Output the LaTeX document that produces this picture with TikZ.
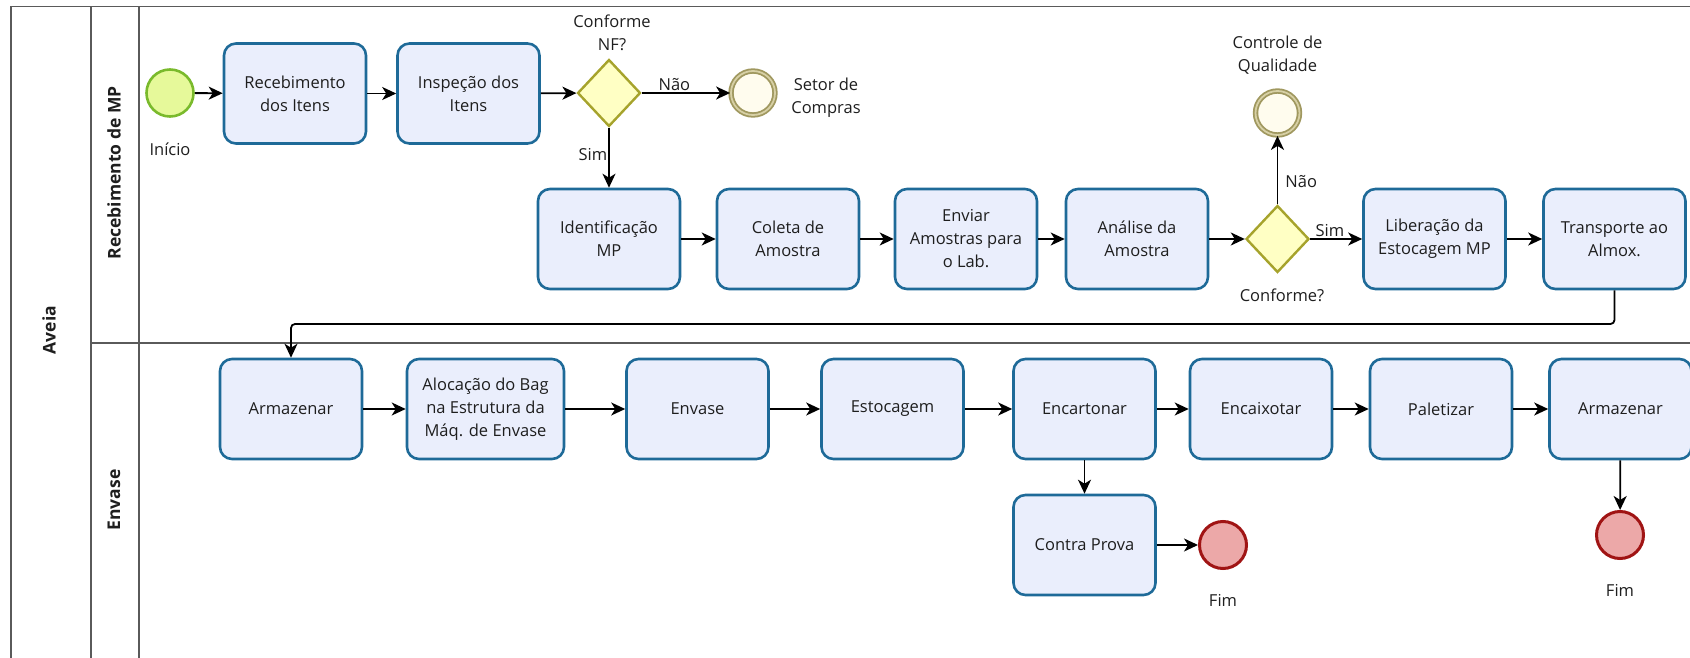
\documentclass[tikz,border=0pt]{standalone}
\usepackage{fontspec}
\setmainfont{Open Sans}
\usetikzlibrary{arrows.meta,shapes.geometric}

\definecolor{taskline}{RGB}{30,106,152}
\definecolor{taskfill}{RGB}{234,238,252}
\definecolor{gwline}{RGB}{166,163,44}
\definecolor{gwfill}{RGB}{255,255,196}
\definecolor{startline}{RGB}{122,186,44}
\definecolor{startfill}{RGB}{230,249,154}
\definecolor{endline}{RGB}{160,20,20}
\definecolor{endfill}{RGB}{236,168,168}
\definecolor{midline}{RGB}{160,152,95}
\definecolor{midring}{RGB}{215,208,165}
\definecolor{midfill}{RGB}{255,252,238}
\definecolor{laneline}{RGB}{90,90,90}
\definecolor{txt}{RGB}{30,30,30}

\begin{document}
\begin{tikzpicture}[x=1pt,y=-1pt,
  every node/.style={text=txt},
  lbl/.style={font=\fontsize{16.5}{23}\selectfont, align=center, inner sep=1pt},
  lanelbl/.style={font=\bfseries\fontsize{17.5}{20}\selectfont, rotate=90, inner sep=0pt},
  task/.style={draw=taskline, fill=taskfill, line width=2.6pt, rounded corners=12pt,
    minimum width=142pt, minimum height=100pt, align=center, inner sep=2pt,
    font=\fontsize{16.5}{23}\selectfont},
  widetask/.style={task, minimum width=157pt},
  gateway/.style={diamond, draw=gwline, fill=gwfill, line width=2.4pt,
    minimum width=63pt, minimum height=67pt, inner sep=0pt},
  startev/.style={circle, draw=startline, fill=startfill, line width=2.6pt,
    minimum size=47pt, inner sep=0pt},
  endev/.style={circle, draw=endline, fill=endfill, line width=3pt,
    minimum size=47pt, inner sep=0pt},
  midev/.style={circle, draw=midline, fill=midfill, line width=1.8pt,
    double=midring, double distance=1.8pt, minimum size=44pt, inner sep=0pt},
  flow/.style={draw=black, line width=1.8pt,
    -{Stealth[length=14pt,width=13pt,inset=4pt]}},
  frame/.style={draw=laneline, line width=1.5pt}
]
\useasboundingbox (0,0) rectangle (1690,658);

% pool and lanes
\draw[frame] (11,658) -- (11,6.5) -- (1690,6.5);
\draw[frame] (91,6.5) -- (91,658);
\draw[frame] (139,6.5) -- (139,658);
\draw[frame] (91,343) -- (1690,343);
\node[lanelbl] (pool) at (49,330) {Aveia};
\node[lanelbl] (lane1) at (114,173) {Recebimento de MP};
\node[lanelbl] (lane2) at (114,500) {Envase};

% lane 1: receiving
\node[startev] (start) at (170,93) {};
\node[lbl] (startlbl) at (170,149) {Início};
\node[task] (receb) at (295,93.5) {Recebimento\\dos Itens};
\node[task] (insp) at (468.5,93.5) {Inspeção dos\\Itens};
\node[gateway] (gw1) at (609,93) {};
\node[lbl] (gw1lbl) at (612,33) {Conforme\\NF?};
\node[midev] (setor) at (753,93) {};
\node[lbl] (setorlbl) at (826,98) {Setor de\\Compras};

\node[task] (ident) at (609,239) {Identificação\\MP};
\node[task] (coleta) at (788,239) {Coleta de\\Amostra};
\node[task] (enviar) at (966,239) {Enviar\\Amostras para\\o Lab.};
\node[task] (analise) at (1137,239) {Análise da\\Amostra};
\node[gateway] (gw2) at (1277.5,239) {};
\node[lbl] (gw2lbl) at (1282,295) {Conforme?};
\node[midev] (cq) at (1277.5,113) {};
\node[lbl] (cqlbl) at (1277.5,55) {Controle de\\Qualidade};
\node[task] (liber) at (1434.5,239) {Liberação da\\Estocagem MP};
\node[task] (transp) at (1614.5,239) {Transporte ao\\Almox.};

% lane 2: filling
\node[task] (arm1) at (291,409) {Armazenar};
\node[widetask] (aloc) at (485.5,409) {Alocação do Bag\\na Estrutura da\\Máq. de Envase};
\node[task] (envase) at (697.5,409) {Envase};
\node[task] (estoc) at (892.5,409) {Estocagem};
\node[task] (encart) at (1084.5,409) {Encartonar};
\node[task] (encaix) at (1261,409) {Encaixotar};
\node[task] (palet) at (1441,409) {Paletizar};
\node[task] (arm2) at (1620.5,409) {Armazenar};
\node[task] (contra) at (1084.5,545) {Contra Prova};
\node[endev] (fim1) at (1223,545) {};
\node[lbl] (fim1lbl) at (1223,600) {Fim};
\node[endev] (fim2) at (1620,535) {};
\node[lbl] (fim2lbl) at (1620,590) {Fim};

% sequence flows
\draw[flow] (start) -- (receb);
\draw[flow] (receb) -- (insp);
\draw[flow] (insp) -- (gw1);
\draw[flow] (gw1) -- node[lbl, above, pos=0.37] {Não} (setor);
\draw[flow] (gw1) -- node[lbl, left, pos=0.45] {Sim} (ident);
\draw[flow] (ident) -- (coleta);
\draw[flow] (coleta) -- (enviar);
\draw[flow] (enviar) -- (analise);
\draw[flow] (analise) -- (gw2);
\draw[flow] (gw2) -- node[lbl, right, pos=0.34, xshift=6pt] {Não} (cq);
\draw[flow] (gw2) -- node[lbl, above, pos=0.38] {Sim} (liber);
\draw[flow] (liber) -- (transp);
\coordinate (looprow) at (0,324);
\draw[flow, rounded corners=4pt] (transp.south) -- (transp.south |- looprow)
  -- (arm1.north |- looprow) -- (arm1.north);
\draw[flow] (arm1) -- (aloc);
\draw[flow] (aloc) -- (envase);
\draw[flow] (envase) -- (estoc);
\draw[flow] (estoc) -- (encart);
\draw[flow] (encart) -- (encaix);
\draw[flow] (encaix) -- (palet);
\draw[flow] (palet) -- (arm2);
\draw[flow] (encart) -- (contra);
\draw[flow] (contra) -- (fim1);
\draw[flow] (arm2) -- (fim2);
\end{tikzpicture}
\end{document}
